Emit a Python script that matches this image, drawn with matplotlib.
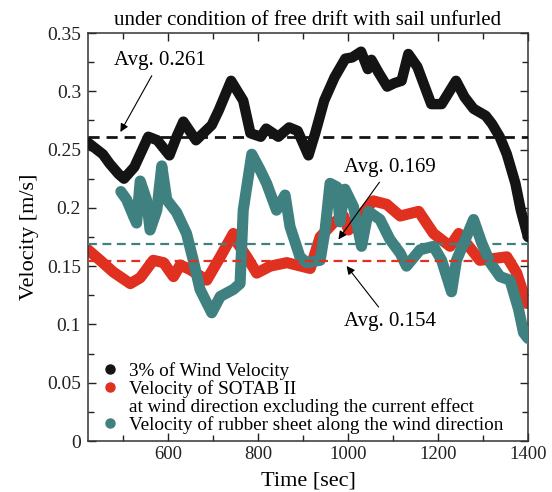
import matplotlib
matplotlib.use("Agg")
import matplotlib.pyplot as plt
from matplotlib.lines import Line2D
from matplotlib.ticker import MultipleLocator, FuncFormatter

plt.rcParams['font.family'] = ['Liberation Serif', 'DejaVu Serif']
plt.rcParams['mathtext.fontset'] = 'stix'

# ---- data ----
wind_t = [422, 435, 455, 470, 490, 502, 525, 556, 576, 603, 620, 634, 662, 697,
          713, 740, 767, 783, 806, 818, 845, 869, 888, 912, 927, 947, 970, 994,
          1009, 1029, 1044, 1052, 1068, 1087, 1103, 1119, 1134, 1154, 1185, 1208,
          1240, 1259, 1279, 1306, 1320, 1337, 1353, 1372, 1384, 1400]
wind_v = [0.256, 0.252, 0.246, 0.238, 0.229, 0.225, 0.235, 0.261, 0.258, 0.245,
          0.262, 0.274, 0.258, 0.271, 0.284, 0.309, 0.292, 0.264, 0.261, 0.268,
          0.261, 0.269, 0.266, 0.245, 0.264, 0.292, 0.312, 0.328, 0.329, 0.334,
          0.319, 0.327, 0.316, 0.304, 0.307, 0.309, 0.332, 0.321, 0.289, 0.289,
          0.309, 0.295, 0.285, 0.279, 0.272, 0.261, 0.246, 0.221, 0.198, 0.175]

sotab_t = [422, 449, 478, 516, 538, 567, 590, 612, 627, 649, 686, 716, 745, 752,
           775, 797, 827, 864, 916, 938, 967, 990, 1001, 1056, 1086, 1116, 1157,
           1190, 1227, 1246, 1293, 1353, 1375, 1397]
sotab_v = [0.164, 0.155, 0.145, 0.135, 0.140, 0.155, 0.153, 0.141, 0.151, 0.147,
           0.138, 0.158, 0.178, 0.171, 0.158, 0.144, 0.150, 0.153, 0.148, 0.175,
           0.187, 0.193, 0.181, 0.206, 0.203, 0.193, 0.197, 0.178, 0.167, 0.178,
           0.155, 0.158, 0.144, 0.118]

sheet_t = [495, 508, 523, 530, 538, 552, 560, 575, 586, 597, 619, 641, 656, 671,
           697, 716, 745, 760, 767, 786, 804, 819, 841, 860, 871, 893, 908, 938,
           949, 960, 975, 982, 993, 1012, 1030, 1045, 1071, 1093, 1116, 1130, 1160,
           1190, 1208, 1230, 1241, 1264, 1279, 1297, 1316, 1338, 1360, 1379, 1390,
           1400]
sheet_v = [0.214, 0.207, 0.193, 0.187, 0.223, 0.207, 0.181, 0.198, 0.236, 0.207,
           0.196, 0.178, 0.155, 0.130, 0.110, 0.124, 0.130, 0.135, 0.198, 0.246,
           0.233, 0.221, 0.198, 0.211, 0.184, 0.158, 0.153, 0.155, 0.181, 0.221,
           0.218, 0.188, 0.216, 0.201, 0.167, 0.197, 0.190, 0.173, 0.161, 0.150,
           0.164, 0.167, 0.155, 0.128, 0.155, 0.176, 0.190, 0.170, 0.153, 0.141,
           0.138, 0.113, 0.093, 0.088]

avg_wind = 0.261
avg_sheet = 0.169
avg_sotab = 0.154

labels = ["3% of Wind Velocity",
          "Velocity of SOTAB II",
          "at wind direction excluding the current effect",
          "Velocity of rubber sheet along the wind direction"]

BLACK = "#141414"
RED = "#e0301f"
TEAL = "#3f8080"

fig = plt.figure(figsize=(5.52, 4.92), dpi=100)
ax = fig.add_axes([88/552, 1-441/492, (528-88)/552, (441-33)/492])

kw = dict(solid_capstyle='round', solid_joinstyle='round')
ax.plot(sotab_t, sotab_v, color=RED, lw=8, zorder=2, **kw)
ax.plot(sheet_t, sheet_v, color=TEAL, lw=8, zorder=3, **kw)
ax.plot(wind_t, wind_v, color=BLACK, lw=7.5, zorder=4, **kw)

ax.axhline(avg_wind, color=BLACK, lw=2, ls=(0, (4, 2.5)), zorder=5)
ax.axhline(avg_sheet, color=TEAL, lw=1.6, ls=(0, (4, 2.5)), zorder=5)
ax.axhline(avg_sotab, color=RED, lw=1.6, ls=(0, (4, 2.5)), zorder=5)

ax.set_xlim(422, 1400)
ax.set_ylim(0, 0.35)
ax.xaxis.set_major_locator(MultipleLocator(200))
ax.xaxis.set_minor_locator(MultipleLocator(100))
ax.yaxis.set_major_locator(MultipleLocator(0.05))
ax.yaxis.set_minor_locator(MultipleLocator(0.025))
ax.yaxis.set_major_formatter(FuncFormatter(lambda v, p: ('%g' % round(v, 3))))
ax.tick_params(which='both', direction='in', top=True, right=True,
               labelsize=13.5, colors='#222222')
ax.tick_params(axis='y', labelsize=14, pad=5)
ax.tick_params(which='major', length=6, width=1)
ax.tick_params(which='minor', length=4, width=1)
for s in ax.spines.values():
    s.set_linewidth(1.1)
    s.set_color('#333333')

ax.set_xlabel("Time [sec]", fontsize=16, labelpad=6)
ax.set_ylabel("Velocity [m/s]", fontsize=16, labelpad=6)
ax.set_title("under condition of free drift with sail unfurled", fontsize=15, pad=6)

arrow = dict(arrowstyle='-|>', color='black', lw=0.8, mutation_scale=12)
ax.annotate("Avg. 0.261", xy=(491, 0.263), xytext=(582, 0.326),
            fontsize=15, ha='center', va='center', arrowprops=arrow,
            zorder=6)
ax.annotate("Avg. 0.169", xy=(975, 0.171), xytext=(1093, 0.2345),
            fontsize=15, ha='center', va='center', arrowprops=arrow, zorder=6)
ax.annotate("Avg. 0.154", xy=(993, 0.152), xytext=(1093, 0.1025),
            fontsize=15, ha='center', va='center', arrowprops=arrow, zorder=6)

handles = [Line2D([], [], ls='none', marker='o', color=BLACK, ms=6.5),
           Line2D([], [], ls='none', marker='o', color=RED, ms=6.5),
           Line2D([], [], ls='none', marker='o', color='none', ms=6.5),
           Line2D([], [], ls='none', marker='o', color=TEAL, ms=6.5)]
leg = ax.legend(handles, labels, loc='lower left', bbox_to_anchor=(0.0, -0.015),
                frameon=False, fontsize=13.8, handlelength=0.9,
                handletextpad=0.55, labelspacing=0.0, borderaxespad=0.3)

fig.savefig("out.png", dpi=100)
